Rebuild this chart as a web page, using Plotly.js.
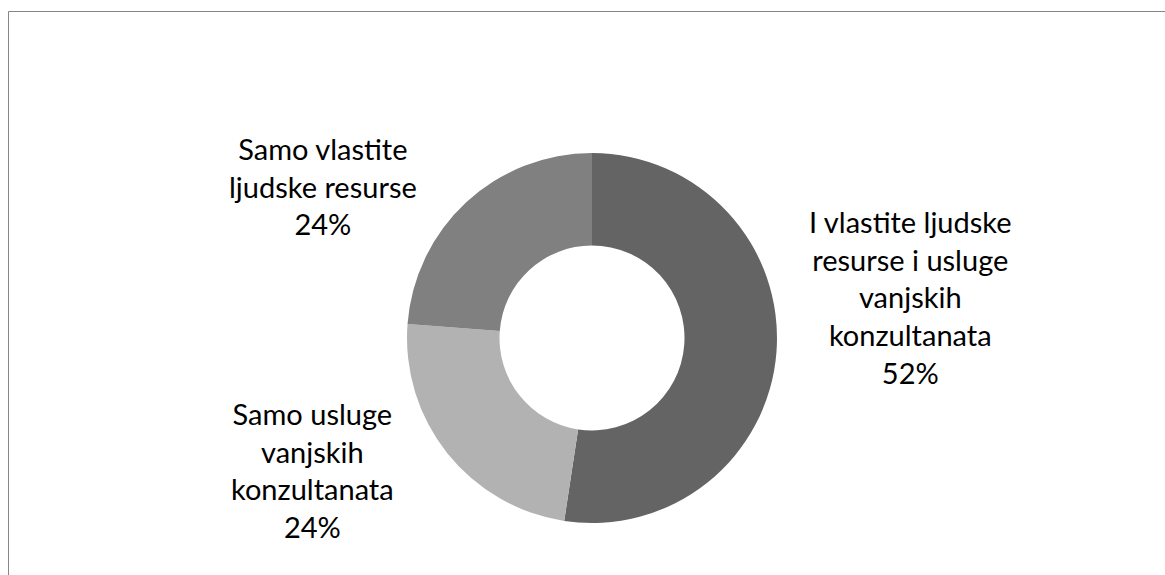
<!DOCTYPE html>
<html>
<head>
<meta charset="utf-8">
<script src="https://cdn.plot.ly/plotly-3.0.1.min.js"></script>
<style>
html,body{margin:0;padding:0;background:#fff;overflow:hidden;}
#chart{width:1165px;height:575px;}
</style>
</head>
<body>
<div id="chart"></div>
<script>
// Data
var categories = [
  "I vlastite ljudske resurse i usluge vanjskih konzultanata",
  "Samo usluge vanjskih konzultanata",
  "Samo vlastite ljudske resurse"
];
var displayLabels = [
  "I vlastite ljudske<br>resurse i usluge<br>vanjskih<br>konzultanata",
  "Samo usluge<br>vanjskih<br>konzultanata",
  "Samo vlastite<br>ljudske resurse"
];
var values = [52.4, 23.8, 23.8];
var colors = ["#646464", "#b2b2b2", "#808080"];

// Layout helpers (pixel positions converted to paper fractions)
var W = 1165, H = 575;
function px(x){ return x / W; }
function py(y){ return 1 - y / H; }
var labelPos = [[910, 297], [312, 470], [323, 186]];

var total = values.reduce(function(a,b){return a+b;}, 0);
var annotations = categories.map(function(c, i){
  return {
    xref: "paper", yref: "paper",
    x: px(labelPos[i][0]), y: py(labelPos[i][1]),
    xanchor: "center", yanchor: "middle",
    text: displayLabels[i] + "<br>" + Math.round(values[i] / total * 100) + "%",
    showarrow: false,
    align: "center",
    font: {family: "Lato, 'Open Sans', sans-serif", size: 29, color: "#000000"}
  };
});

var trace = {
  type: "pie",
  labels: categories,
  values: values,
  hole: 0.5,
  sort: false,
  direction: "clockwise",
  rotation: 0,
  marker: {colors: colors, line: {width: 0}},
  textinfo: "none",
  hoverinfo: "label+percent",
  domain: {x: [px(407), px(777)], y: [py(523), py(153)]},
  showlegend: false
};

var layout = {
  width: W, height: H,
  margin: {l: 0, r: 0, t: 0, b: 0},
  paper_bgcolor: "#ffffff",
  plot_bgcolor: "#ffffff",
  showlegend: false,
  annotations: annotations,
  shapes: [
    {type: "line", xref: "paper", yref: "paper",
     x0: px(8.5), x1: 1, y0: py(11.5), y1: py(11.5),
     line: {color: "#868686", width: 1}, layer: "below"},
    {type: "line", xref: "paper", yref: "paper",
     x0: px(8.5), x1: px(8.5), y0: 0, y1: py(11.5),
     line: {color: "#868686", width: 1}, layer: "below"}
  ]
};

Plotly.newPlot("chart", [trace], layout, {displayModeBar: false, staticPlot: true});
</script>
</body>
</html>
